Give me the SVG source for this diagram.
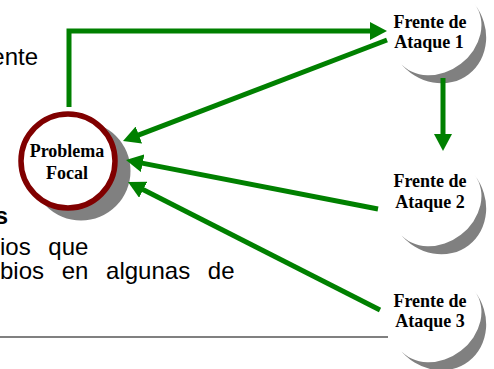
<svg xmlns="http://www.w3.org/2000/svg" width="494" height="369" viewBox="0 0 494 369">
  <style>
    .bg { fill: #ffffff; }
    .body { font-family: "Liberation Sans", Arial, sans-serif; font-size: 24px; fill: #000000; word-spacing: 11px; }
    .lbl { font-family: "Liberation Serif", "Times New Roman", serif; font-size: 18px; font-weight: bold; fill: #000000; text-anchor: middle; }
    .conn { stroke: #008000; stroke-width: 5; fill: none; }
    .moon { fill: #808080; }
  </style>
  <defs>
    <marker id="ah" markerUnits="userSpaceOnUse" markerWidth="18" markerHeight="18" refX="2" refY="9" orient="auto">
      <path d="M0,0 L17,9 L0,18 Z" fill="#008000"/>
    </marker>
    <path id="crescent" d="M37.5,-29 A47.4,52 -37.7 0 1 -37.5,29 A47.4,39 -37.7 0 0 37.5,-29 Z"/>
  </defs>
  <rect class="bg" x="0" y="0" width="494" height="369"/>

  <g id="background-text">
    <text class="body" x="38" y="65" text-anchor="end">ente</text>
    <text class="body" x="8" y="224" text-anchor="end" font-weight="bold">s</text>
    <text class="body" x="0" y="255">ios que</text>
    <text class="body" x="0" y="279">bios en algunas de</text>
    <line x1="0" y1="337" x2="388" y2="337" stroke="#808080" stroke-width="2"/>
  </g>

  <g id="problema-focal">
    <circle cx="81" cy="171" r="49.5" fill="#808080"/>
    <circle cx="68" cy="161" r="47" fill="#ffffff" stroke="#800000" stroke-width="5.5"/>
    <text class="lbl" x="67" y="157">Problema</text>
    <text class="lbl" x="67" y="179">Focal</text>
  </g>

  <g id="frente-1">
    <use href="#crescent" class="moon" transform="translate(437,33)"/>
    <text class="lbl" x="430" y="28">Frente de</text>
    <text class="lbl" x="429" y="48">Ataque 1</text>
  </g>

  <g id="frente-2">
    <use href="#crescent" class="moon" transform="translate(437,204)"/>
    <text class="lbl" x="430" y="187">Frente de</text>
    <text class="lbl" x="430" y="208">Ataque 2</text>
  </g>

  <g id="frente-3">
    <use href="#crescent" class="moon" transform="translate(437,320)"/>
    <text class="lbl" x="430" y="307">Frente de</text>
    <text class="lbl" x="430" y="327">Ataque 3</text>
  </g>

  <g id="connectors">
    <path class="conn" d="M69,107 V31 H372" marker-end="url(#ah)"/>
    <path class="conn" d="M387,40 L137,135.7" marker-end="url(#ah)"/>
    <path class="conn" d="M378,209 L140.7,162.9" marker-end="url(#ah)"/>
    <path class="conn" d="M380,310 L141.4,188.8" marker-end="url(#ah)"/>
    <path class="conn" d="M443,78 V136" marker-end="url(#ah)"/>
  </g>
</svg>
